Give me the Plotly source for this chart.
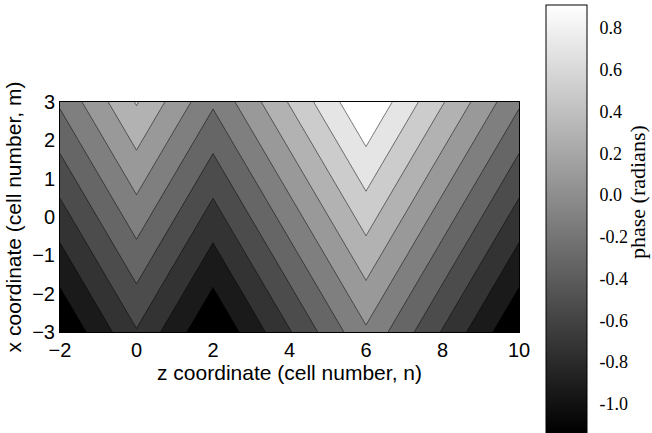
import plotly.graph_objects as go

# Data: phase (radians) at knots of the cell grid
n_knots = [-2, 0, 2, 6, 10]          # z coordinate (cell number, n)
m_rows = [-3, 3]                     # x coordinate (cell number, m)
phase_bottom = [-1.14, -0.596, -1.14, -0.051, -1.14]   # m = -3
phase_top = [-0.179, 0.366, -0.179, 0.91, -0.179]      # m = 3

phase_min = -1.14
phase_max = 0.91
n_levels = 12   # levels including the data extremes

cbar_tickvals = [-1.0, -0.8, -0.6, -0.4, -0.2, 0.0, 0.2, 0.4, 0.6, 0.8]
cbar_ticktext = ["-1.0", "-0.8", "-0.6", "-0.4", "-0.2", "0.0", "0.2", "0.4", "0.6", "0.8"]

step = (phase_max - phase_min) / (n_levels - 1)

W, H = 652, 433
L, R, T, B = 60, 133, 102, 101
PW, PH = W - L - R, H - T - B

gray = [[0, "rgb(0,0,0)"], [1, "rgb(255,255,255)"]]

fig = go.Figure()
fig.add_trace(go.Contour(
    x=n_knots, y=m_rows, z=[phase_bottom, phase_top],
    colorscale=gray, showscale=False,
    contours=dict(start=phase_min + step, end=phase_max - step + 1e-9, size=step, coloring="fill"),
    line=dict(color="black", width=0.5, smoothing=0),
    hoverinfo="skip",
))

cb_top, cb_bot, cb_left, cb_w = 5, 433, 546, 41
# continuous colorbar
fig.add_trace(go.Scatter(
    x=[4], y=[0], mode="markers", hoverinfo="skip", showlegend=False,
    marker=dict(size=1, opacity=0, color=[phase_min], cmin=phase_min, cmax=phase_max,
                colorscale=gray, showscale=True,
                colorbar=dict(
                    x=(cb_left - L) / PW, xanchor="left",
                    y=(H - B - cb_top) / PH, yanchor="top",
                    len=(cb_bot - cb_top) / PH, lenmode="fraction",
                    thickness=cb_w, thicknessmode="pixels",
                    outlinecolor="black", outlinewidth=1,
                    tickvals=cbar_tickvals, ticktext=cbar_ticktext,
                    ticks="outside", ticklen=9, tickcolor="rgba(0,0,0,0)",
                    tickfont=dict(family="Liberation Serif", size=18, color="black"),
                    xpad=0, ypad=0,
                ))
))

# inward ticks on both sides of the colorbar
for v in cbar_tickvals:
    yp = (H - B - cb_top - (phase_max - v) / (phase_max - phase_min) * (cb_bot - cb_top)) / PH
    for xa, xb in [(cb_left, cb_left + 5), (cb_left + cb_w - 5, cb_left + cb_w)]:
        fig.add_shape(type="line", xref="paper", yref="paper",
                      x0=(xa - L) / PW, x1=(xb - L) / PW, y0=yp, y1=yp,
                      line=dict(color="black", width=1))

# colorbar label
fig.add_annotation(text="phase (radians)", xref="paper", yref="paper",
                   x=(637 - L) / PW, y=(H - B - 192) / PH, xanchor="center", yanchor="middle",
                   showarrow=False, textangle=-90,
                   font=dict(family="Liberation Serif", size=22, color="black"))

axis_font = dict(family="Liberation Sans", size=20, color="black")
title_font = dict(family="Liberation Sans", size=21, color="black")
fig.update_layout(
    width=W, height=H,
    margin=dict(l=L, r=R, t=T, b=B, pad=0, autoexpand=False),
    paper_bgcolor="white", plot_bgcolor="white",
    showlegend=False,
    xaxis=dict(range=[-2, 10], dtick=2, tick0=0, showgrid=False, zeroline=False,
               showline=True, mirror=True, linecolor="black", linewidth=1,
               ticks="", tickfont=axis_font, automargin=False,
               title=dict(text="z coordinate (cell number, n)", font=title_font, standoff=2)),
    yaxis=dict(range=[-3, 3], dtick=1, tick0=0, showgrid=False, zeroline=False,
               showline=True, mirror=True, linecolor="black", linewidth=1,
               ticks="", tickfont=axis_font, automargin=False,
               title=dict(text="x coordinate (cell number, m)", font=title_font, standoff=4)),
)

fig.write_html("out.html", config={"displayModeBar": False, "staticPlot": True},
               post_script="document.body.style.margin='0px';")
